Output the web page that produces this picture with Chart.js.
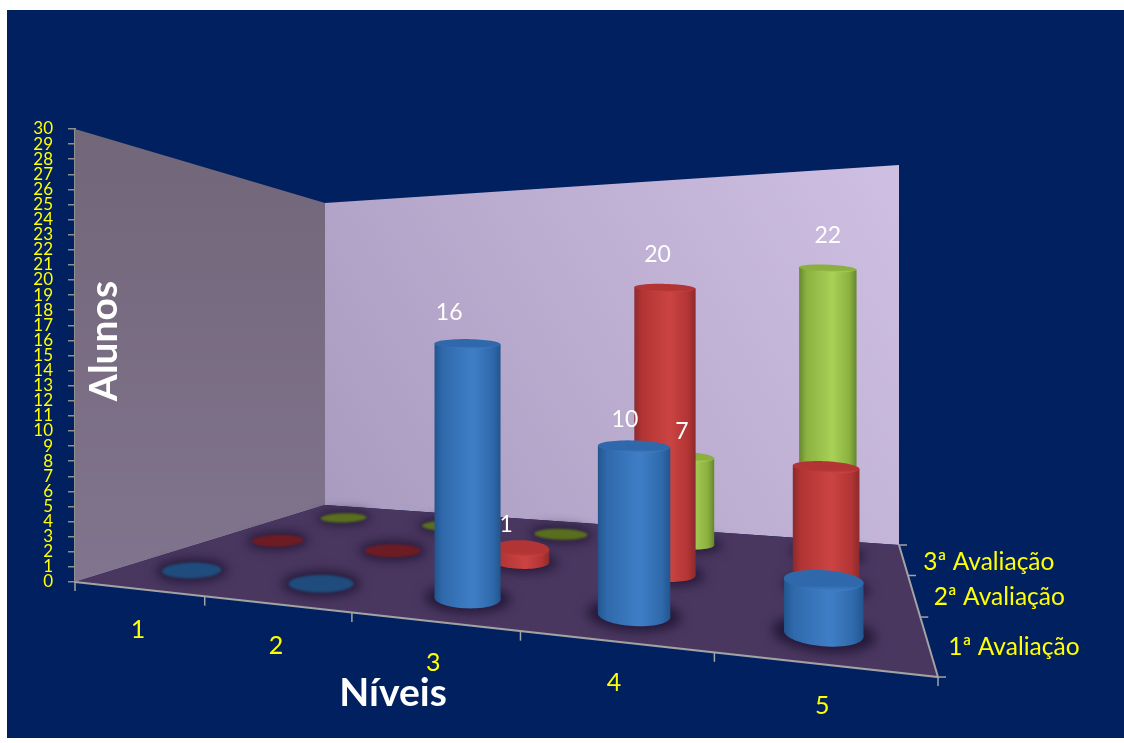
<!DOCTYPE html>
<html lang="pt">
<head>
<meta charset="utf-8">
<title>Níveis por avaliação</title>
<script src="https://cdn.jsdelivr.net/npm/chart.js@4"></script>
<style>
  html, body { margin: 0; padding: 0; background: #fff; overflow: hidden; }
  canvas { display: block; }
</style>
</head>
<body>
<canvas id="grafico" width="1124" height="743"></canvas>
<script>
// Dados
const niveis = ['1', '2', '3', '4', '5'];
const avaliacoes = ['1ª Avaliação', '2ª Avaliação', '3ª Avaliação'];
const avaliacao1 = [0, 0, 16, 10, 3];
const avaliacao2 = [0, 0, 1, 20, 8];
const avaliacao3 = [0, 0, 0, 7, 22];
// Na figura os rotulos das barras do nivel 5 (exceto o 22) nao aparecem
const rotulos1 = [false, false, true, true, false];
const rotulos2 = [false, false, true, true, false];
const rotulos3 = [false, false, false, true, true];
const ticksY = Array.from({ length: 31 }, (_, i) => i);

const AZUL = { borda: '#22558e', claro: '#3f7ec6', tampa: '#2f69ab', disco: '#1f4c7c' };
const VERMELHO = { borda: '#8c2a2c', claro: '#cb4443', tampa: '#b23434', disco: '#6e1c24' };
const VERDE = { borda: '#66862e', claro: '#a8d157', tampa: '#8bb03f', disco: '#596e1e' };

// Cantos do piso na tela: frente esq., frente dir., fundo dir., fundo esq.
const piso = [[75, 582], [938, 677], [899, 545], [325, 505]];
// Altura da parede do fundo em cada canto (px), esquerda e direita
const paredeFundo = { esq: 302, dir: 380 };

function criaProjecao(q) {
  const [x0, y0] = q[0], [x1, y1] = q[1], [x2, y2] = q[2], [x3, y3] = q[3];
  const dx1 = x1 - x2, dx2 = x3 - x2, dx3 = x0 - x1 + x2 - x3;
  const dy1 = y1 - y2, dy2 = y3 - y2, dy3 = y0 - y1 + y2 - y3;
  const den = dx1 * dy2 - dx2 * dy1;
  const g = (dx3 * dy2 - dx2 * dy3) / den;
  const h = (dx1 * dy3 - dx3 * dy1) / den;
  const a = x1 - x0 + g * x1, b = x3 - x0 + h * x3;
  const d = y1 - y0 + g * y1, e = y3 - y0 + h * y3;
  return (u, v) => {
    const w = g * u + h * v + 1;
    // pequeno ajuste em x: o original nao e uma perspectiva perfeita
    return {
      x: (a * u + b * v + x0) / w - 6 * Math.sin(Math.PI * u),
      y: (d * u + e * v + y0) / w,
      escala: 1 / w
    };
  };
}
const P = criaProjecao(piso);

function caminho(ctx, pts) {
  ctx.beginPath();
  pts.forEach((p, i) => (i ? ctx.lineTo(p.x, p.y) : ctx.moveTo(p.x, p.y)));
  ctx.closePath();
}

function desenhaCilindro(ctx, u, v, alturaPx, cor) {
  const c = P(u, v);
  const rx = c.escala * (28.5 + 5.5 * u);
  const ry = 8.8 * c.escala * c.escala;
  const ang = (u - 0.3) * 0.14;
  const contorno = [];
  for (let i = 0; i < 64; i++) {
    const t = i / 64 * Math.PI * 2;
    const ex = rx * Math.cos(t), ey = ry * Math.sin(t);
    contorno.push({
      x: c.x + ex * Math.cos(ang) - ey * Math.sin(ang),
      y: c.y + ex * Math.sin(ang) + ey * Math.cos(ang)
    });
  }
  const xs = contorno.map(p => p.x);
  const xMin = Math.min(...xs), xMax = Math.max(...xs);

  // sombra no piso
  ctx.save();
  ctx.filter = 'blur(6px)';
  ctx.fillStyle = 'rgba(28,18,48,0.85)';
  caminho(ctx, contorno.map(p => ({ x: c.x + (p.x - c.x) * 1.3, y: c.y + (p.y - c.y) * 1.45 })));
  ctx.fill();
  ctx.restore();

  if (alturaPx === 0) {
    ctx.save();
    ctx.filter = 'blur(1px)';
    ctx.fillStyle = cor.disco;
    caminho(ctx, contorno.map(p => ({ x: c.x + (p.x - c.x) * 1.08, y: c.y + (p.y - c.y) * 1.0 })));
    ctx.fill();
    ctx.restore();
    return;
  }

  const h = alturaPx * c.escala;
  // tampa fica mais achatada quanto mais alta a coluna
  const unidades = alturaPx / 15.1;
  const ryTopo = ry / (1 + unidades / 5) + 2.5;
  const k = ryTopo / ry;
  const topo = contorno.map(p => ({ x: p.x, y: c.y - h + (p.y - c.y) * k }));

  const grad = ctx.createLinearGradient(xMin, 0, xMax, 0);
  grad.addColorStop(0, cor.borda);
  grad.addColorStop(0.12, cor.tampa);
  grad.addColorStop(0.58, cor.claro);
  grad.addColorStop(0.88, cor.tampa);
  grad.addColorStop(1, cor.borda);
  ctx.fillStyle = grad;

  caminho(ctx, contorno);
  ctx.fill();
  const iEsq = xs.indexOf(xMin), iDir = xs.indexOf(xMax);
  caminho(ctx, [topo[iEsq], topo[iDir], contorno[iDir], contorno[iEsq]]);
  ctx.fill();

  const gradTampa = ctx.createLinearGradient(0, c.y - h - ryTopo, 0, c.y - h + ryTopo);
  gradTampa.addColorStop(0, cor.tampa);
  gradTampa.addColorStop(0.75, cor.tampa);
  gradTampa.addColorStop(1, cor.claro);
  ctx.fillStyle = gradTampa;
  caminho(ctx, topo);
  ctx.fill();
}

const cena3d = {
  id: 'cena3d',
  beforeDraw(chart) {
    const { ctx, width, height } = chart;
    ctx.save();
    ctx.fillStyle = '#fff';
    ctx.fillRect(0, 0, width, height);
    ctx.fillStyle = '#002060';
    ctx.fillRect(7, 10, width - 7, height - 15);
    ctx.restore();
  },
  beforeDatasetsDraw(chart) {
    const { ctx, chartArea, scales } = chart;
    const y = scales.y;
    const A = P(0, 0), B = P(1, 0), C = P(1, 1), D = P(0, 1);
    const topoA = { x: A.x, y: y.getPixelForValue(y.max) };
    const topoD = { x: D.x, y: D.y - paredeFundo.esq };
    const topoC = { x: C.x, y: C.y - paredeFundo.dir };

    ctx.save();
    const gEsq = ctx.createLinearGradient(0, chartArea.top, 0, chartArea.bottom);
    gEsq.addColorStop(0, '#726679');
    gEsq.addColorStop(1, '#81748e');
    ctx.fillStyle = gEsq;
    caminho(ctx, [A, topoA, topoD, D]);
    ctx.fill();

    const gFundo = ctx.createLinearGradient(D.x, D.y, C.x, topoC.y);
    gFundo.addColorStop(0, '#a99bbf');
    gFundo.addColorStop(1, '#cfc0e3');
    ctx.fillStyle = gFundo;
    caminho(ctx, [D, topoD, topoC, C]);
    ctx.fill();

    ctx.fillStyle = '#4a3760';
    caminho(ctx, [A, B, C, D]);
    ctx.fill();

    // eixos do piso
    ctx.strokeStyle = '#a3a3a3';
    ctx.lineWidth = 2;
    ctx.beginPath();
    ctx.moveTo(A.x, A.y);
    ctx.lineTo(B.x, B.y);
    ctx.lineTo(C.x, C.y);
    ctx.stroke();
    ctx.lineWidth = 1.5;
    for (let i = 0; i <= niveis.length; i++) {
      const p = P(i / niveis.length, 0);
      ctx.beginPath();
      ctx.moveTo(p.x, p.y);
      ctx.lineTo(p.x, p.y + 9);
      ctx.stroke();
    }
    for (let r = 0; r <= avaliacoes.length; r++) {
      const p = P(1, r / avaliacoes.length);
      ctx.beginPath();
      ctx.moveTo(p.x, p.y);
      ctx.lineTo(p.x + 8, p.y);
      ctx.stroke();
    }
    ctx.restore();
  },
  afterDatasetsDraw(chart) {
    const { ctx, chartArea, data } = chart;
    const nFilas = data.datasets.length;
    const rotulos = [];

    // do fundo para a frente
    for (let r = nFilas - 1; r >= 0; r--) {
      const ds = data.datasets[r];
      chart.getDatasetMeta(r).data.forEach((barra, i) => {
        const u = (barra.x - chartArea.left) / chartArea.width;
        const v = (r + 0.5) / nFilas;
        const h = barra.base - barra.y;
        desenhaCilindro(ctx, u, v, h, ds.cor);
        if (ds.mostrar[i]) {
          const c = P(u, v);
          const valor = ds.data[i];
          const dx = -(0.9 - u) * (50 - 25 * v);
          const dy = -24 - Math.min(9, Math.max(0, valor - 5) * 0.7);
          rotulos.push({ x: c.x + 6 * Math.sin(Math.PI * u) * 0 + dx, y: c.y - h * c.escala + dy, t: String(valor) });
        }
      });
    }

    ctx.save();
    ctx.textAlign = 'center';
    ctx.textBaseline = 'middle';
    ctx.fillStyle = '#fff';
    ctx.font = '23px Lato';
    rotulos.forEach(l => ctx.fillText(l.t, l.x, l.y));

    // rotulos das categorias sobre o piso
    ctx.fillStyle = '#ffff00';
    ctx.font = '25px Lato';
    chart.scales.x.ticks.forEach((tick, i) => {
      const u = (chart.scales.x.getPixelForTick(i) - chartArea.left) / chartArea.width;
      const p = P(u, 0);
      ctx.fillText(tick.label, p.x, p.y + 41);
    });

    ctx.textAlign = 'left';
    ctx.font = '24.5px Lato';
    data.datasets.forEach((ds, r) => {
      const p = P(1, (r + 0.5) / nFilas);
      ctx.fillText(ds.label, p.x + 20, p.y + 3);
    });

    // titulos dos eixos
    ctx.textAlign = 'center';
    ctx.fillStyle = '#fff';
    ctx.font = 'bold 39px Lato';
    ctx.fillText('Níveis', 393, 693);
    ctx.translate(104, 341);
    ctx.rotate(-Math.PI / 2);
    ctx.fillText('Alunos', 0, 0);
    ctx.restore();
  }
};

new Chart(document.getElementById('grafico'), {
  type: 'bar',
  plugins: [cena3d],
  data: {
    labels: niveis,
    datasets: [
      { label: avaliacoes[0], data: avaliacao1, cor: AZUL, mostrar: rotulos1 },
      { label: avaliacoes[1], data: avaliacao2, cor: VERMELHO, mostrar: rotulos2 },
      { label: avaliacoes[2], data: avaliacao3, cor: VERDE, mostrar: rotulos3 }
    ]
  },
  options: {
    responsive: false,
    animation: false,
    events: [],
    backgroundColor: 'transparent',
    borderColor: 'transparent',
    layout: { padding: { left: 0, right: 186, top: 129, bottom: 161 } },
    plugins: { legend: { display: false }, title: { display: false }, tooltip: { enabled: false } },
    scales: {
      x: { stacked: true, display: false },
      y: {
        min: 0,
        max: 30,
        afterFit(scale) { scale.width = 75; },
        afterBuildTicks(scale) { scale.ticks = ticksY.map(value => ({ value })); },
        border: { color: '#8f8f8f', width: 2 },
        grid: { drawOnChartArea: false, drawTicks: true, tickLength: 7, tickColor: '#8f8f8f', lineWidth: 1.5 },
        ticks: { color: '#ffff00', font: { family: 'Lato', size: 17 }, autoSkip: false, padding: 15 }
      }
    }
  }
});
</script>
</body>
</html>
